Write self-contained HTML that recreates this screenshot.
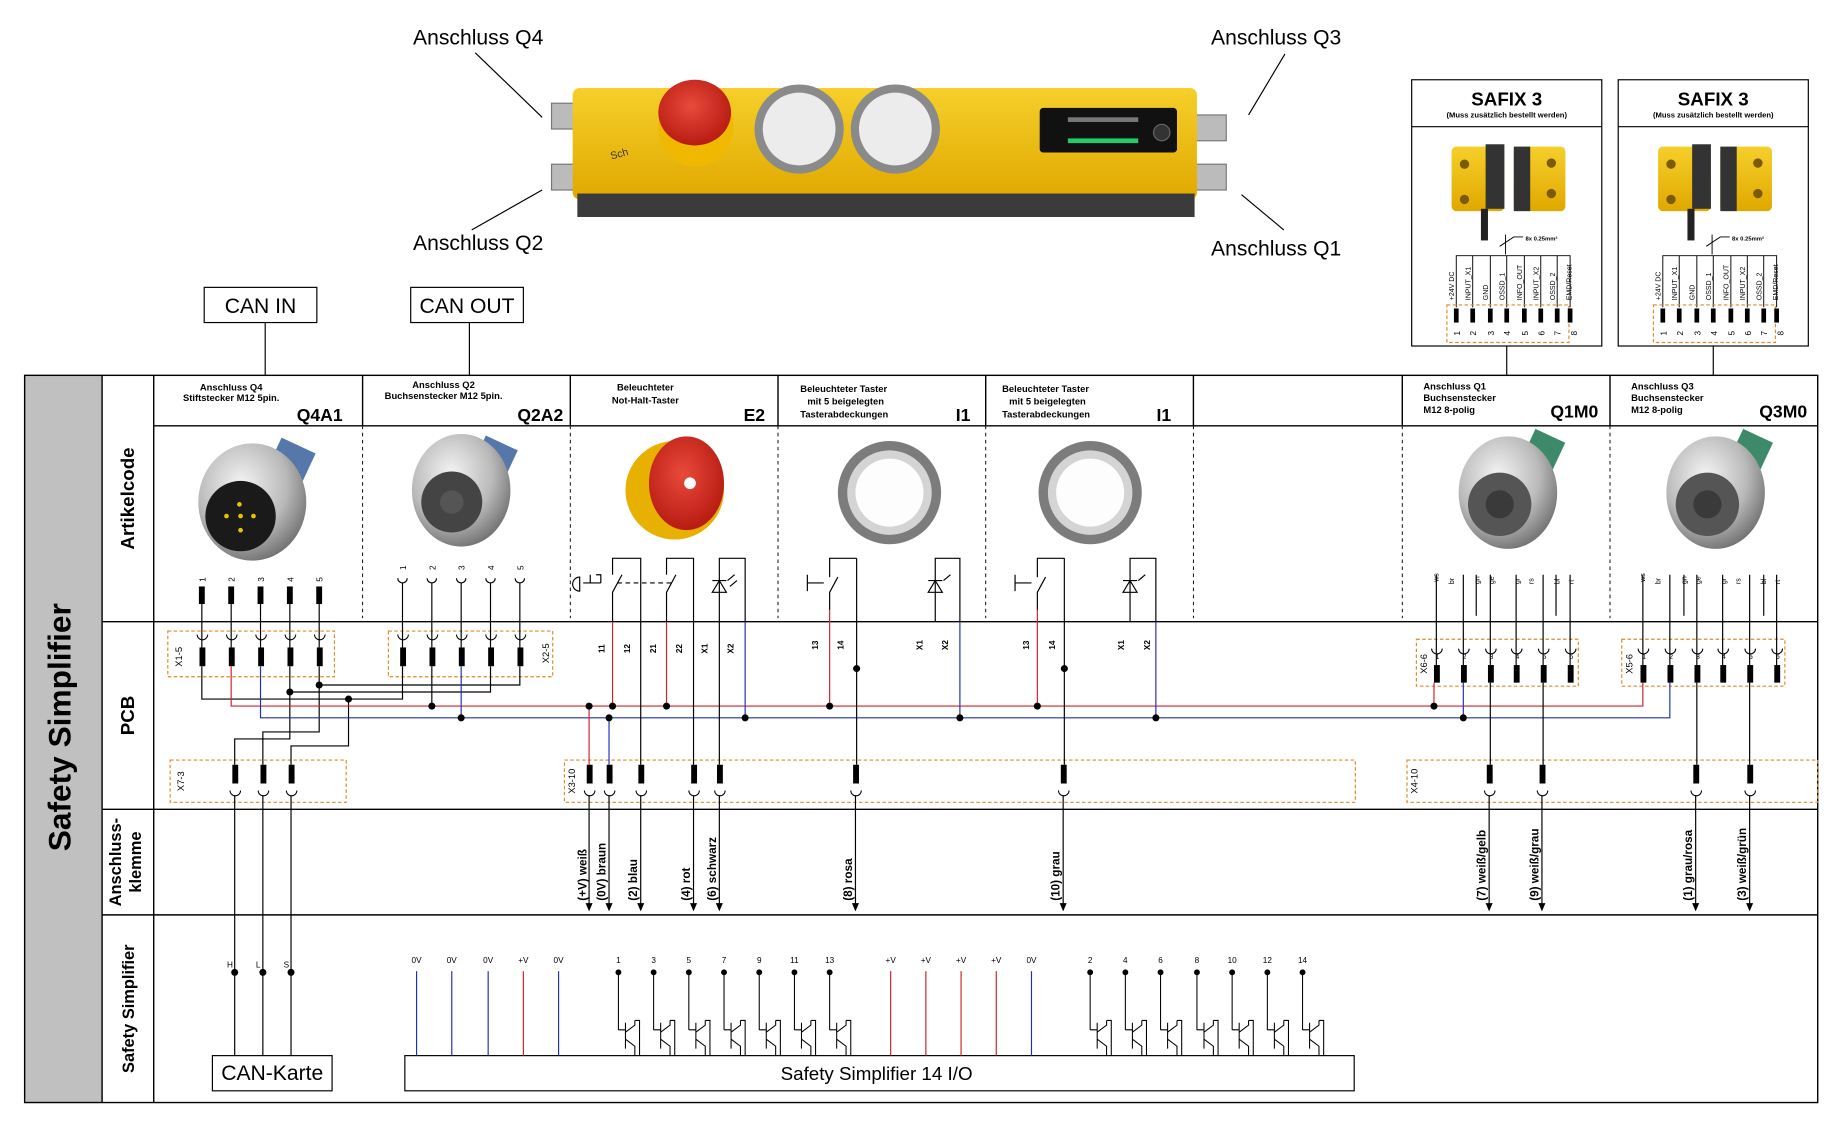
<!DOCTYPE html>
<html><head><meta charset="utf-8"><style>
html,body{margin:0;padding:0;background:#fff;}
svg{display:block;}
text{font-family:"Liberation Sans",sans-serif;}
</style></head><body>
<svg width="1840" height="1126" viewBox="0 0 1568 960" preserveAspectRatio="none" xmlns="http://www.w3.org/2000/svg">
<defs>
<radialGradient id="met" cx="40%" cy="35%" r="70%"><stop offset="0" stop-color="#f4f4f4"/><stop offset=".6" stop-color="#b9b9b9"/><stop offset="1" stop-color="#6d6d6d"/></radialGradient>
<radialGradient id="red" cx="45%" cy="40%" r="60%"><stop offset="0" stop-color="#e84a3a"/><stop offset="1" stop-color="#b81c12"/></radialGradient>
<linearGradient id="yel" x1="0" y1="0" x2="0" y2="1"><stop offset="0" stop-color="#f6cf2a"/><stop offset="1" stop-color="#e0a800"/></linearGradient>
<g id="pinR"><rect x="-2.5" y="0" width="5" height="15" fill="#000"/></g>
</defs>
<rect width="1568" height="960" fill="#fff"/>

<!-- ===== Top device ===== -->
<g>
<rect x="470" y="88" width="40" height="22" fill="#bbb" stroke="#777"/>
<rect x="470" y="140" width="40" height="22" fill="#bbb" stroke="#777"/>
<rect x="1010" y="98" width="35" height="22" fill="#bbb" stroke="#777"/>
<rect x="1010" y="140" width="35" height="22" fill="#bbb" stroke="#777"/>
<rect x="488" y="75" width="532" height="95" rx="6" fill="url(#yel)"/>
<rect x="492" y="165" width="526" height="20" fill="#3b3b3b"/>
<ellipse cx="593" cy="108" rx="32" ry="34" fill="#f0b800"/>
<ellipse cx="592" cy="96" rx="31" ry="28" fill="url(#red)"/>
<circle cx="681" cy="110" r="38" fill="#8a8a8a"/><circle cx="681" cy="110" r="31" fill="#ececec"/>
<circle cx="763" cy="110" r="38" fill="#8a8a8a"/><circle cx="763" cy="110" r="31" fill="#ececec"/>
<rect x="886" y="92" width="117" height="38" rx="3" fill="#111"/>
<circle cx="990" cy="113" r="7" fill="#333" stroke="#666"/>
<rect x="910" y="100" width="60" height="4" fill="#777"/><rect x="910" y="118" width="60" height="4" fill="#2c6"/>
<text x="521" y="136" font-size="9" fill="#333" transform="rotate(-15 521 136)">Sch</text>
</g>
<text x="352" y="38" font-size="18">Anschluss Q4</text>
<text x="1032" y="38" font-size="18">Anschluss Q3</text>
<text x="352" y="213" font-size="18">Anschluss Q2</text>
<text x="1032" y="218" font-size="18">Anschluss Q1</text>
<g stroke="#000" stroke-width="1">
<line x1="405" y1="45" x2="462" y2="100"/>
<line x1="402" y1="196" x2="462" y2="162"/>
<line x1="1095" y1="46" x2="1064" y2="98"/>
<line x1="1094" y1="196" x2="1058" y2="166"/>
</g>

<!-- CAN boxes -->
<rect x="174" y="245" width="96" height="30" fill="#fff" stroke="#000"/>
<text x="222" y="267" font-size="18" text-anchor="middle">CAN IN</text>
<rect x="350" y="245" width="96" height="30" fill="#fff" stroke="#000"/>
<text x="398" y="267" font-size="18" text-anchor="middle">CAN OUT</text>
<line x1="226" y1="275" x2="226" y2="320" stroke="#000"/>
<line x1="400" y1="275" x2="400" y2="320" stroke="#000"/>

<!-- SAFIX boxes -->
<g id="safix">
<rect x="1203" y="68" width="162" height="227" fill="#fff" stroke="#000"/>
<line x1="1203" y1="108" x2="1365" y2="108" stroke="#000"/>
<text x="1284" y="90" font-size="16" font-weight="bold" text-anchor="middle">SAFIX 3</text>
<text x="1284" y="100" font-size="6.5" font-weight="bold" text-anchor="middle">(Muss zusätzlich bestellt werden)</text>
<rect x="1237" y="125" width="45" height="55" rx="4" fill="url(#yel)"/>
<rect x="1266" y="123" width="16" height="55" fill="#333"/>
<rect x="1290" y="125" width="44" height="55" rx="4" fill="url(#yel)"/>
<rect x="1290" y="125" width="14" height="55" fill="#333"/>
<circle cx="1248" cy="140" r="4" fill="#7a5b00"/><circle cx="1248" cy="170" r="4" fill="#7a5b00"/>
<circle cx="1322" cy="139" r="4" fill="#7a5b00"/><circle cx="1322" cy="165" r="4" fill="#7a5b00"/>
<rect x="1262" y="178" width="6" height="27" fill="#222"/>
<g stroke="#000" stroke-width="0.8" fill="none">
<line x1="1283" y1="200" x2="1283" y2="217"/><path d="M1278 210 L1290 202 L1298 202"/>
<path d="M1241 262 V218 H1327 V262"/>
<line x1="1255" y1="218" x2="1255" y2="262"/><line x1="1270" y1="218" x2="1270" y2="262"/><line x1="1284" y1="218" x2="1284" y2="262"/><line x1="1299" y1="218" x2="1299" y2="262"/><line x1="1313" y1="218" x2="1313" y2="262"/>
</g>
<text x="1300" y="205" font-size="5" font-weight="bold">8x 0.25mm²</text>
<g font-size="6" transform="rotate(-90)">
<text x="-256" y="1239">+24V DC</text><text x="-256" y="1253">INPUT_X1</text><text x="-256" y="1268">GND</text><text x="-256" y="1282">OSSD_1</text><text x="-256" y="1297">INFO_OUT</text><text x="-256" y="1311">INPUT_X2</text><text x="-256" y="1325">OSSD_2</text><text x="-256" y="1339">EMD/Reset</text>
</g>
<rect x="1233" y="260" width="104" height="32" fill="none" stroke="#e08a2a" stroke-dasharray="3,2"/>
<g fill="#000"><rect x="1239" y="263" width="4" height="12"/><rect x="1253" y="263" width="4" height="12"/><rect x="1268" y="263" width="4" height="12"/><rect x="1282" y="263" width="4" height="12"/><rect x="1297" y="263" width="4" height="12"/><rect x="1311" y="263" width="4" height="12"/><rect x="1325" y="263" width="4" height="12"/></g>
<g font-size="7" transform="rotate(-90)">
<text x="-286" y="1244">1</text><text x="-286" y="1258">2</text><text x="-286" y="1273">3</text><text x="-286" y="1287">4</text><text x="-286" y="1302">5</text><text x="-286" y="1316">6</text><text x="-286" y="1330">7</text><text x="-286" y="1344">8</text>
</g>
<rect x="1336" y="263" width="4" height="12" fill="#000"/>
<path d="M1327 218 H1338 V262" stroke="#000" stroke-width="0.8" fill="none"/>
<line x1="1284" y1="295" x2="1284" y2="320" stroke="#000"/>
</g>
<use href="#safix" x="176"/>

<!-- ===== Table frame ===== -->
<rect x="21" y="320" width="66" height="620" fill="#c0c0c0"/>
<text transform="translate(60,620) rotate(-90)" font-size="27" font-weight="bold" text-anchor="middle">Safety Simplifier</text>
<g stroke="#000" stroke-width="1.2" fill="none">
<rect x="21" y="320" width="1528" height="620"/>
<line x1="87" y1="320" x2="87" y2="940"/>
<line x1="131" y1="320" x2="131" y2="940"/>
<line x1="131" y1="363" x2="1549" y2="363"/>
<line x1="87" y1="530" x2="1549" y2="530"/>
<line x1="87" y1="690" x2="1549" y2="690"/>
<line x1="87" y1="780" x2="1549" y2="780"/>
<line x1="309" y1="320" x2="309" y2="363"/><line x1="486" y1="320" x2="486" y2="363"/><line x1="663" y1="320" x2="663" y2="363"/><line x1="840" y1="320" x2="840" y2="363"/><line x1="1017" y1="320" x2="1017" y2="363"/><line x1="1195" y1="320" x2="1195" y2="363"/><line x1="1372" y1="320" x2="1372" y2="363"/>
</g>
<g stroke="#000" stroke-width="0.8" stroke-dasharray="3,3">
<line x1="309" y1="363" x2="309" y2="527"/><line x1="486" y1="363" x2="486" y2="527"/><line x1="663" y1="363" x2="663" y2="527"/><line x1="840" y1="363" x2="840" y2="527"/><line x1="1017" y1="363" x2="1017" y2="527"/><line x1="1195" y1="363" x2="1195" y2="527"/><line x1="1372" y1="363" x2="1372" y2="527"/>
</g>
<g font-weight="bold" text-anchor="middle">
<text transform="translate(114,425) rotate(-90)" font-size="16">Artikelcode</text>
<text transform="translate(114,610) rotate(-90)" font-size="16">PCB</text>
<text transform="translate(103,735) rotate(-90)" font-size="14">Anschluss-</text>
<text transform="translate(120,735) rotate(-90)" font-size="14">klemme</text>
<text transform="translate(114,860) rotate(-90)" font-size="14">Safety Simplifier</text>
</g>

<!-- headers -->
<g font-size="8" font-weight="bold">
<g text-anchor="middle">
<text x="197" y="333">Anschluss Q4</text><text x="197" y="342">Stiftstecker M12 5pin.</text>
<text x="378" y="331">Anschluss Q2</text><text x="378" y="340">Buchsenstecker M12 5pin.</text>
<text x="550" y="333">Beleuchteter</text><text x="550" y="344">Not-Halt-Taster</text>
</g>
<text x="682" y="334">Beleuchteter Taster</text><text x="688" y="345">mit 5 beigelegten</text><text x="682" y="356">Tasterabdeckungen</text>
<text x="854" y="334">Beleuchteter Taster</text><text x="860" y="345">mit 5 beigelegten</text><text x="854" y="356">Tasterabdeckungen</text>
<text x="1213" y="332">Anschluss Q1</text><text x="1213" y="342">Buchsenstecker</text><text x="1213" y="352">M12 8-polig</text>
<text x="1390" y="332">Anschluss Q3</text><text x="1390" y="342">Buchsenstecker</text><text x="1390" y="352">M12 8-polig</text>
</g>
<g font-size="15" font-weight="bold" text-anchor="end">
<text x="292" y="359">Q4A1</text><text x="480" y="359">Q2A2</text><text x="652" y="359">E2</text><text x="827" y="359">I1</text><text x="998" y="359">I1</text><text x="1362" y="356">Q1M0</text><text x="1540" y="356">Q3M0</text>
</g>

<!-- photos -->
<g>
<rect x="230" y="378" width="32" height="40" fill="#5577aa" transform="rotate(25 246 398)"/>
<ellipse cx="215" cy="428" rx="46" ry="50" fill="url(#met)"/>
<circle cx="205" cy="440" r="30" fill="#1a1a1a"/>
<g fill="#e6c200"><circle cx="204" cy="430" r="2"/><circle cx="193" cy="440" r="2"/><circle cx="205" cy="440" r="2"/><circle cx="216" cy="440" r="2"/><circle cx="205" cy="452" r="2"/></g>
<rect x="405" y="376" width="30" height="36" fill="#5577aa" transform="rotate(25 420 394)"/>
<ellipse cx="393" cy="418" rx="42" ry="48" fill="url(#met)"/>
<circle cx="385" cy="428" r="26" fill="#444"/><circle cx="385" cy="428" r="10" fill="#555"/>
<ellipse cx="575" cy="418" rx="42" ry="42" fill="#e8b000"/>
<ellipse cx="585" cy="412" rx="32" ry="40" fill="url(#red)"/>
<circle cx="588" cy="412" r="5" fill="#fff"/>
<circle cx="758" cy="420" r="44" fill="#7c7c7c"/><circle cx="758" cy="420" r="36" fill="#d4d4d4"/><circle cx="758" cy="420" r="29" fill="#fdfdfd"/>
<circle cx="929" cy="420" r="44" fill="#7c7c7c"/><circle cx="929" cy="420" r="36" fill="#d4d4d4"/><circle cx="929" cy="420" r="29" fill="#fdfdfd"/>
<rect x="1300" y="370" width="28" height="34" fill="#3c8a6a" transform="rotate(25 1314 387)"/>
<ellipse cx="1285" cy="420" rx="42" ry="48" fill="url(#met)"/>
<circle cx="1278" cy="430" r="27" fill="#555"/><circle cx="1278" cy="430" r="12" fill="#3a3a3a"/>
<rect x="1477" y="370" width="28" height="34" fill="#3c8a6a" transform="rotate(25 1491 387)"/>
<ellipse cx="1462" cy="420" rx="42" ry="48" fill="url(#met)"/>
<circle cx="1455" cy="430" r="27" fill="#555"/><circle cx="1455" cy="430" r="12" fill="#3a3a3a"/>
</g>

<!-- ===== Col1 pins ===== -->
<g font-size="7">
<g transform="rotate(-90)">
<text x="-496" y="175">1</text><text x="-496" y="200">2</text><text x="-496" y="225">3</text><text x="-496" y="250">4</text><text x="-496" y="275">5</text>
<text x="-486" y="346">1</text><text x="-486" y="371">2</text><text x="-486" y="396">3</text><text x="-486" y="421">4</text><text x="-486" y="446">5</text>
</g>
</g>
<g>
<use href="#pinR" x="172" y="500"/><use href="#pinR" x="197" y="500"/><use href="#pinR" x="222" y="500"/><use href="#pinR" x="247" y="500"/><use href="#pinR" x="272" y="500"/>
</g>
<g stroke="#000" stroke-width="1" fill="none">
<path d="M339 493 A4 4 0 0 0 347 493"/><path d="M364 493 A4 4 0 0 0 372 493"/><path d="M389 493 A4 4 0 0 0 397 493"/><path d="M414 493 A4 4 0 0 0 422 493"/><path d="M439 493 A4 4 0 0 0 447 493"/>
</g>

<!-- PCB connector boxes -->
<g fill="none" stroke="#e08a2a" stroke-dasharray="3,2">
<rect x="143" y="538" width="142" height="39"/>
<rect x="331" y="538" width="140" height="39"/>
<rect x="145" y="648" width="150" height="36"/>
<rect x="481" y="648" width="674" height="36"/>
<rect x="1199" y="648" width="350" height="36"/>
<rect x="1207" y="545" width="138" height="40"/>
<rect x="1382" y="545" width="139" height="40"/>
</g>
<g font-size="8">
<text transform="translate(155,560) rotate(-90)" text-anchor="middle">X1-5</text>
<text transform="translate(468,557) rotate(-90)" text-anchor="middle">X2-5</text>
<text transform="translate(157,666) rotate(-90)" text-anchor="middle">X7-3</text>
<text transform="translate(490,666) rotate(-90)" text-anchor="middle">X3-10</text>
<text transform="translate(1208,666) rotate(-90)" text-anchor="middle">X4-10</text>
<text transform="translate(1216,566) rotate(-90)" text-anchor="middle">X6-6</text>
<text transform="translate(1391,566) rotate(-90)" text-anchor="middle">X5-6</text>
</g>

<g fill="#000">
<rect x="170" y="552" width="5" height="16"/><rect x="195" y="552" width="5" height="16"/><rect x="220" y="552" width="5" height="16"/><rect x="245" y="552" width="5" height="16"/><rect x="270" y="552" width="5" height="16"/>
<rect x="341" y="552" width="5" height="16"/><rect x="366" y="552" width="5" height="16"/><rect x="391" y="552" width="5" height="16"/><rect x="416" y="552" width="5" height="16"/><rect x="441" y="552" width="5" height="16"/>
<rect x="198" y="652" width="5" height="16"/><rect x="222" y="652" width="5" height="16"/><rect x="246" y="652" width="5" height="16"/>
<rect x="500" y="652" width="5" height="16"/><rect x="517" y="652" width="5" height="16"/><rect x="544" y="652" width="5" height="16"/><rect x="589" y="652" width="5" height="16"/><rect x="611" y="652" width="5" height="16"/><rect x="727" y="652" width="5" height="16"/><rect x="904" y="652" width="5" height="16"/>
<rect x="1267" y="652" width="5" height="16"/><rect x="1312" y="652" width="5" height="16"/><rect x="1443" y="652" width="5" height="16"/><rect x="1489" y="652" width="5" height="16"/>
<rect x="1222" y="567" width="5" height="15"/><rect x="1245" y="567" width="5" height="15"/><rect x="1268" y="567" width="5" height="15"/><rect x="1290" y="567" width="5" height="15"/><rect x="1313" y="567" width="5" height="15"/><rect x="1336" y="567" width="5" height="15"/>
<rect x="1398" y="567" width="5" height="15"/><rect x="1421" y="567" width="5" height="15"/><rect x="1444" y="567" width="5" height="15"/><rect x="1466" y="567" width="5" height="15"/><rect x="1489" y="567" width="5" height="15"/><rect x="1512" y="567" width="5" height="15"/>
</g>
<g stroke="#000" stroke-width="0.9" fill="none">
<path d="M168 541 A4.5 4.5 0 0 0 177 541"/><path d="M193 541 A4.5 4.5 0 0 0 202 541"/><path d="M218 541 A4.5 4.5 0 0 0 227 541"/><path d="M243 541 A4.5 4.5 0 0 0 252 541"/><path d="M268 541 A4.5 4.5 0 0 0 277 541"/>
<path d="M339 541 A4.5 4.5 0 0 0 348 541"/><path d="M364 541 A4.5 4.5 0 0 0 373 541"/><path d="M389 541 A4.5 4.5 0 0 0 398 541"/><path d="M414 541 A4.5 4.5 0 0 0 423 541"/><path d="M439 541 A4.5 4.5 0 0 0 448 541"/>
<path d="M196 674 A4.5 4.5 0 0 0 205 674"/><path d="M220 674 A4.5 4.5 0 0 0 229 674"/><path d="M244 674 A4.5 4.5 0 0 0 253 674"/>
<path d="M498 674 A4.5 4.5 0 0 0 507 674"/><path d="M515 674 A4.5 4.5 0 0 0 524 674"/><path d="M542 674 A4.5 4.5 0 0 0 551 674"/><path d="M587 674 A4.5 4.5 0 0 0 596 674"/><path d="M609 674 A4.5 4.5 0 0 0 618 674"/><path d="M725 674 A4.5 4.5 0 0 0 734 674"/><path d="M902 674 A4.5 4.5 0 0 0 911 674"/>
<path d="M1265 674 A4.5 4.5 0 0 0 1274 674"/><path d="M1310 674 A4.5 4.5 0 0 0 1319 674"/><path d="M1441 674 A4.5 4.5 0 0 0 1450 674"/><path d="M1487 674 A4.5 4.5 0 0 0 1496 674"/>
<path d="M1220 553 A4.5 4.5 0 0 0 1229 553"/><path d="M1243 553 A4.5 4.5 0 0 0 1252 553"/><path d="M1266 553 A4.5 4.5 0 0 0 1275 553"/><path d="M1288 553 A4.5 4.5 0 0 0 1297 553"/><path d="M1311 553 A4.5 4.5 0 0 0 1320 553"/><path d="M1334 553 A4.5 4.5 0 0 0 1343 553"/>
<path d="M1396 553 A4.5 4.5 0 0 0 1405 553"/><path d="M1419 553 A4.5 4.5 0 0 0 1428 553"/><path d="M1442 553 A4.5 4.5 0 0 0 1451 553"/><path d="M1464 553 A4.5 4.5 0 0 0 1473 553"/><path d="M1487 553 A4.5 4.5 0 0 0 1496 553"/><path d="M1510 553 A4.5 4.5 0 0 0 1519 553"/>
</g>
<g font-size="6" text-anchor="middle">
<text x="1225" y="562">1</text><text x="1248" y="562">2</text><text x="1271" y="562">3</text><text x="1293" y="562">4</text><text x="1316" y="562">5</text><text x="1339" y="562">6</text>
<text x="1401" y="562">1</text><text x="1424" y="562">2</text><text x="1447" y="562">3</text><text x="1469" y="562">4</text><text x="1492" y="562">5</text><text x="1515" y="562">6</text>
</g>

<!-- ===== Wiring ===== -->
<g fill="none" stroke-width="1">
<g stroke="#000">
<line x1="172" y1="515" x2="172" y2="552"/><line x1="197" y1="515" x2="197" y2="552"/><line x1="222" y1="515" x2="222" y2="552"/><line x1="247" y1="515" x2="247" y2="552"/><line x1="272" y1="515" x2="272" y2="552"/>
<line x1="343" y1="497" x2="343" y2="552"/><line x1="368" y1="497" x2="368" y2="552"/><line x1="393" y1="497" x2="393" y2="552"/><line x1="418" y1="497" x2="418" y2="552"/><line x1="443" y1="497" x2="443" y2="552"/>
<path d="M172 568 V596 H343 V568"/>
<path d="M247 568 V590 H418 V568"/>
<path d="M272 568 V584 H443 V568"/>
<path d="M247 590 V630 H200 V652"/>
<path d="M272 584 V624 H224 V652"/>
<path d="M297 596 V636 H248 V652"/>
<path d="M368 568 V602"/>
</g>
<path d="M197 568 V602 H1400 V582" stroke="#d0202a"/>
<path d="M222 568 V612 H1423 V582" stroke="#2030b0"/>
<line x1="393" y1="568" x2="393" y2="612" stroke="#2030b0"/>
<line x1="1222" y1="582" x2="1222" y2="602" stroke="#d0202a"/>
<line x1="1247" y1="582" x2="1247" y2="612" stroke="#2030b0"/>
<path d="M502 602 V652" stroke="#d0202a"/>
<path d="M519 612 V652" stroke="#2030b0"/>
<path d="M522 530 V602" stroke="#d0202a"/>
<path d="M568 530 V602" stroke="#d0202a"/>
<path d="M635 530 V612" stroke="#2030b0"/>
<g stroke="#000">
<path d="M546 530 V652"/><path d="M591 530 V652"/><path d="M613 530 V652"/>
<path d="M522 530 V505 L530 490 M522 490 V476 H546 V530"/>
<path d="M568 530 V505 L576 490 M568 490 V476 H591 V530"/>
<path d="M613 530 V476 H635 V530"/>
<path d="M497 497 H512 M503 490 V497 M508 490 L512 490 L512 497"/>
<path d="M526 497 H572" stroke-dasharray="4,3"/>
<path d="M607 505 L619 505 L613 495 Z M607 495 H619 M620 495 L626 490 M622 500 L628 495"/>
</g>
<path d="M494 492 A6 6 0 0 0 494 504 Z" stroke="#000"/>
<path d="M707 520 V602" stroke="#d0202a"/>
<path d="M818 530 V612" stroke="#2030b0"/>
<g stroke="#000">
<path d="M730 476 V652"/>
<path d="M707 520 V505 L714 492 M707 492 V476 H730"/>
<path d="M688 490 V504 M688 497 H702"/>
<path d="M797 530 V476 H818 V530"/>
<path d="M791 505 L803 505 L797 495 Z M791 495 H803 M804 495 L810 490"/>
</g>
<path d="M884 520 V602" stroke="#d0202a"/>
<path d="M985 530 V612" stroke="#2030b0"/>
<g stroke="#000">
<path d="M907 476 V652"/>
<path d="M884 520 V505 L891 492 M884 492 V476 H907"/>
<path d="M865 490 V504 M865 497 H879"/>
<path d="M963 530 V476 H985 V530"/>
<path d="M957 505 L969 505 L963 495 Z M957 495 H969 M970 495 L976 490"/>
</g>
<g stroke="#000">
<line x1="1224" y1="490" x2="1224" y2="567"/><line x1="1247" y1="490" x2="1247" y2="567"/><line x1="1270" y1="490" x2="1270" y2="567"/><line x1="1292" y1="490" x2="1292" y2="567"/><line x1="1315" y1="490" x2="1315" y2="567"/><line x1="1338" y1="490" x2="1338" y2="567"/>
<line x1="1400" y1="490" x2="1400" y2="567"/><line x1="1423" y1="490" x2="1423" y2="567"/><line x1="1446" y1="490" x2="1446" y2="567"/><line x1="1468" y1="490" x2="1468" y2="567"/><line x1="1491" y1="490" x2="1491" y2="567"/><line x1="1514" y1="490" x2="1514" y2="567"/>
<path d="M1270 582 V652 M1315 582 V652 M1446 582 V652 M1491 582 V652"/>
<line x1="1258" y1="490" x2="1258" y2="525"/><line x1="1326" y1="490" x2="1326" y2="525"/>
<line x1="1435" y1="490" x2="1435" y2="525"/><line x1="1503" y1="490" x2="1503" y2="525"/>
</g>
<g stroke="#000">
<line x1="200" y1="678" x2="200" y2="900"/><line x1="224" y1="678" x2="224" y2="900"/><line x1="248" y1="678" x2="248" y2="900"/>
<line x1="502" y1="678" x2="502" y2="775"/><line x1="519" y1="678" x2="519" y2="775"/><line x1="546" y1="678" x2="546" y2="775"/><line x1="591" y1="678" x2="591" y2="775"/><line x1="613" y1="678" x2="613" y2="775"/><line x1="729" y1="678" x2="729" y2="775"/><line x1="906" y1="678" x2="906" y2="775"/>
<line x1="1269" y1="678" x2="1269" y2="775"/><line x1="1314" y1="678" x2="1314" y2="775"/><line x1="1445" y1="678" x2="1445" y2="775"/><line x1="1491" y1="678" x2="1491" y2="775"/>
</g>
</g>
<g font-size="6">
<g transform="rotate(-90)">
<text x="-496" y="1226">ws</text><text x="-498" y="1239">br</text><text x="-498" y="1261">gn</text><text x="-498" y="1273">ge</text><text x="-498" y="1295">gr</text><text x="-498" y="1307">rs</text><text x="-498" y="1329">bl</text><text x="-498" y="1341">rt</text>
<text x="-496" y="1402">ws</text><text x="-498" y="1415">br</text><text x="-498" y="1437">gn</text><text x="-498" y="1449">ge</text><text x="-498" y="1471">gr</text><text x="-498" y="1483">rs</text><text x="-498" y="1505">bl</text><text x="-498" y="1517">rt</text>
</g>
</g>
<g fill="#000">
<path d="M499 770 L502 777 L505 770Z"/><path d="M516 770 L519 777 L522 770Z"/><path d="M543 770 L546 777 L549 770Z"/><path d="M588 770 L591 777 L594 770Z"/><path d="M610 770 L613 777 L616 770Z"/><path d="M726 770 L729 777 L732 770Z"/><path d="M903 770 L906 777 L909 770Z"/><path d="M1266 770 L1269 777 L1272 770Z"/><path d="M1311 770 L1314 777 L1317 770Z"/><path d="M1442 770 L1445 777 L1448 770Z"/><path d="M1488 770 L1491 777 L1494 770Z"/>
<circle cx="368" cy="602" r="3"/><circle cx="393" cy="612" r="3"/><circle cx="247" cy="590" r="3"/><circle cx="272" cy="584" r="3"/><circle cx="297" cy="596" r="3"/>
<circle cx="502" cy="602" r="3"/><circle cx="519" cy="612" r="3"/><circle cx="522" cy="602" r="3"/><circle cx="568" cy="602" r="3"/><circle cx="635" cy="612" r="3"/>
<circle cx="707" cy="602" r="3"/><circle cx="818" cy="612" r="3"/><circle cx="730" cy="570" r="3"/>
<circle cx="884" cy="602" r="3"/><circle cx="985" cy="612" r="3"/><circle cx="907" cy="570" r="3"/>
<circle cx="1222" cy="602" r="3"/><circle cx="1247" cy="612" r="3"/>
<circle cx="200" cy="829" r="3"/><circle cx="224" cy="829" r="3"/><circle cx="248" cy="829" r="3"/>
</g>
<g font-size="7" text-anchor="middle" font-weight="bold">
<g transform="rotate(-90)">
<text x="-553" y="515">11</text><text x="-553" y="537">12</text><text x="-553" y="559">21</text><text x="-553" y="581">22</text><text x="-553" y="603">X1</text><text x="-553" y="625">X2</text>
<text x="-550" y="697">13</text><text x="-550" y="719">14</text><text x="-550" y="786">X1</text><text x="-550" y="808">X2</text>
<text x="-550" y="877">13</text><text x="-550" y="899">14</text><text x="-550" y="958">X1</text><text x="-550" y="980">X2</text>
</g>
</g>
<g font-size="10" font-weight="bold">
<g transform="rotate(-90)">
<text x="-768" y="500">(+V) weiß</text><text x="-768" y="516">(0V) braun</text><text x="-768" y="543">(2) blau</text><text x="-768" y="588">(4) rot</text><text x="-768" y="610">(6) schwarz</text><text x="-768" y="726">(8) rosa</text><text x="-768" y="903">(10) grau</text>
<text x="-768" y="1266">(7) weiß/gelb</text><text x="-768" y="1311">(9) weiß/grau</text><text x="-768" y="1442">(1) grau/rosa</text><text x="-768" y="1488">(3) weiß/grün</text>
</g>
</g>

<!-- ===== Bottom row ===== -->
<rect x="181" y="900" width="102" height="30" fill="#fff" stroke="#000"/>
<text x="232" y="921" font-size="18" text-anchor="middle">CAN-Karte</text>
<g font-size="7" text-anchor="middle"><text x="196" y="825">H</text><text x="220" y="825">L</text><text x="244" y="825">S</text></g>
<rect x="345" y="900" width="809" height="30" fill="#fff" stroke="#000"/>
<text x="747" y="921" font-size="16" text-anchor="middle">Safety Simplifier 14 I/O</text>
<g font-size="7" text-anchor="middle">
<text x="355" y="821">0V</text><text x="385" y="821">0V</text><text x="416" y="821">0V</text><text x="446" y="821">+V</text><text x="476" y="821">0V</text>
<text x="527" y="821">1</text><text x="557" y="821">3</text><text x="587" y="821">5</text><text x="617" y="821">7</text><text x="647" y="821">9</text><text x="677" y="821">11</text><text x="707" y="821">13</text>
<text x="759" y="821">+V</text><text x="789" y="821">+V</text><text x="819" y="821">+V</text><text x="849" y="821">+V</text><text x="879" y="821">0V</text>
<text x="929" y="821">2</text><text x="959" y="821">4</text><text x="989" y="821">6</text><text x="1020" y="821">8</text><text x="1050" y="821">10</text><text x="1080" y="821">12</text><text x="1110" y="821">14</text>
</g>
<g stroke-width="1">
<g stroke="#2030b0"><line x1="355" y1="828" x2="355" y2="900"/><line x1="385" y1="828" x2="385" y2="900"/><line x1="416" y1="828" x2="416" y2="900"/><line x1="476" y1="828" x2="476" y2="900"/><line x1="879" y1="828" x2="879" y2="900"/></g>
<g stroke="#d0202a"><line x1="446" y1="828" x2="446" y2="900"/><line x1="759" y1="828" x2="759" y2="900"/><line x1="789" y1="828" x2="789" y2="900"/><line x1="819" y1="828" x2="819" y2="900"/><line x1="849" y1="828" x2="849" y2="900"/></g>
</g>
<g id="tr" stroke="#000" stroke-width="0.9" fill="none">
<path d="M527 828 V878 M527 878 H533 M533 872 V894 M533 880 L541 874 V870 M533 886 L541 892 V900 M541 870 H545 V900"/>
</g>
<use href="#tr" x="30"/><use href="#tr" x="60"/><use href="#tr" x="90"/><use href="#tr" x="120"/><use href="#tr" x="150"/><use href="#tr" x="180"/>
<use href="#tr" x="402"/><use href="#tr" x="432"/><use href="#tr" x="462"/><use href="#tr" x="493"/><use href="#tr" x="523"/><use href="#tr" x="553"/><use href="#tr" x="583"/>
<g fill="#000">
<circle cx="527" cy="829" r="2.5"/><circle cx="557" cy="829" r="2.5"/><circle cx="587" cy="829" r="2.5"/><circle cx="617" cy="829" r="2.5"/><circle cx="647" cy="829" r="2.5"/><circle cx="677" cy="829" r="2.5"/><circle cx="707" cy="829" r="2.5"/>
<circle cx="929" cy="829" r="2.5"/><circle cx="959" cy="829" r="2.5"/><circle cx="989" cy="829" r="2.5"/><circle cx="1020" cy="829" r="2.5"/><circle cx="1050" cy="829" r="2.5"/><circle cx="1080" cy="829" r="2.5"/><circle cx="1110" cy="829" r="2.5"/>
</g>
</svg>
</body></html>
